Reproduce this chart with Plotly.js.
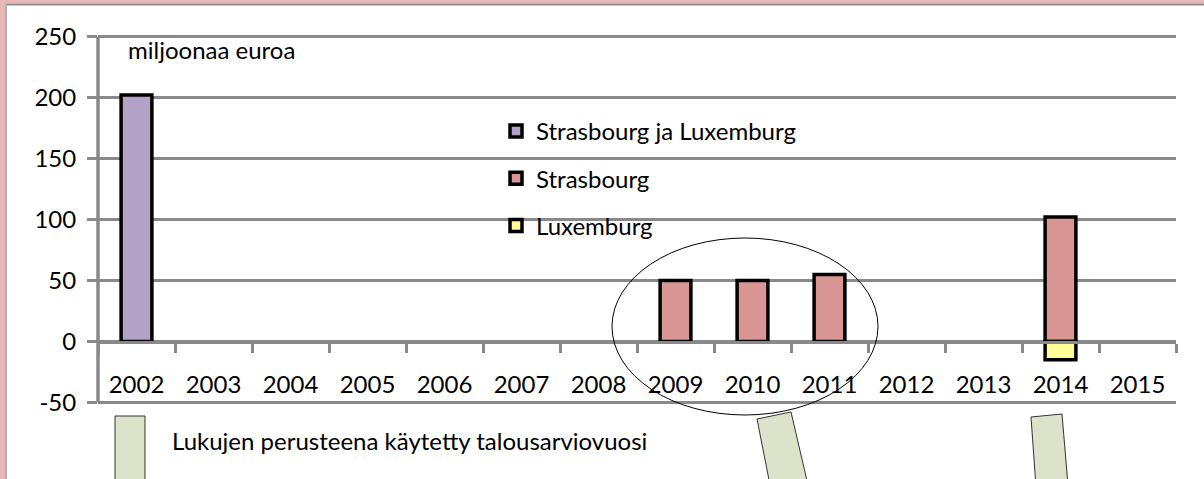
<!DOCTYPE html>
<html>
<head>
<meta charset="utf-8">
<script src="https://cdn.plot.ly/plotly-3.0.1.min.js"></script>
<style>
html,body{margin:0;padding:0;background:#fff;}
#chart{width:1204px;height:479px;}
</style>
</head>
<body>
<div id="chart"></div>
<script>
// ---- data ----
var years = ["2002","2003","2004","2005","2006","2007","2008","2009","2010","2011","2012","2013","2014","2015"];
var seriesNames = ["Strasbourg ja Luxemburg", "Strasbourg", "Luxemburg"];
var strasLuxYears = ["2002"];
var strasLuxValues = [202];
var strasYears = ["2009","2010","2011","2014"];
var strasValues = [50, 50, 55, 102];
var luxYears = ["2014"];
var luxValues = [-15];
var yTickValues = [-50, 0, 50, 100, 150, 200, 250];
var yTickLabels = ["-50", "0", "50", "100", "150", "200", "250"];
var unitLabel = "miljoonaa euroa";
var noteLabel = "Lukujen perusteena käytetty talousarviovuosi";

// ---- layout helpers (pixel -> paper) ----
var W = 1204, H = 479;
var L = 98, R = 1176, T = 34, B = 405;
function X(px){ return (px - L) / (R - L); }
function Y(py){ return (B - py) / (B - T); }

var gray = "#898989";
var font = "Lato, 'Open Sans', sans-serif";
var rMin = -52, rMax = 252;   // small padding so edge gridlines are kept

function barTrace(name, xs, ys, color){
  return {
    type: "bar", name: name, x: xs, y: ys,
    marker: {color: color, line: {color: "#000", width: 3.5}},
    legendgroup: name, hoverinfo: "skip"
  };
}

var data = [
  barTrace(seriesNames[0], strasLuxYears, strasLuxValues, "#b3a2c7"),
  barTrace(seriesNames[1], strasYears, strasValues, "#d99694"),
  barTrace(seriesNames[2], luxYears, luxValues, "#ffff99")
];

function quad(p){
  var s = "M" + X(p[0][0]) + "," + Y(p[0][1]);
  for (var i = 1; i < p.length; i++) s += " L" + X(p[i][0]) + "," + Y(p[i][1]);
  return s + " Z";
}

var shapes = [
  // frame
  {type:"rect", xref:"paper", yref:"paper", x0:X(0), x1:X(W), y0:Y(0), y1:Y(3.5), fillcolor:"#e6b9b8", line:{width:0}, layer:"below"},
  {type:"rect", xref:"paper", yref:"paper", x0:X(0), x1:X(5), y0:Y(0), y1:Y(H), fillcolor:"#e6b9b8", line:{width:0}, layer:"below"},
  {type:"line", xref:"paper", yref:"paper", x0:X(5), x1:X(W), y0:Y(4.5), y1:Y(4.5), line:{color:"#8c8c8c", width:2}},
  {type:"line", xref:"paper", yref:"paper", x0:X(6), x1:X(6), y0:Y(4), y1:Y(H), line:{color:"#b0b0b0", width:2}},
  // ellipse
  {type:"circle", xref:"paper", yref:"paper", x0:X(612), x1:X(878), y0:Y(415), y1:Y(238), line:{color:"#000", width:1}, layer:"above"},
  // callouts
  {type:"path", xref:"paper", yref:"paper", path: quad([[115,416],[145,416],[145,485],[115,485]]), fillcolor:"#dde3ca", line:{color:"#333", width:1}},
  {type:"path", xref:"paper", yref:"paper", path: quad([[757,419],[791,412],[808,485],[771,490]]), fillcolor:"#dde3ca", line:{color:"#333", width:1}},
  {type:"path", xref:"paper", yref:"paper", path: quad([[1031,417],[1062,414],[1068,485],[1036,487]]), fillcolor:"#dde3ca", line:{color:"#333", width:1}}
];

var layout = {
  width: W, height: H,
  margin: {l: L, r: W - R, t: T, b: H - B, pad: 0},
  paper_bgcolor: "#fff", plot_bgcolor: "rgba(0,0,0,0)",
  barmode: "relative", bargap: 0.6,
  font: {family: font, size: 25, color: "#000"},
  showlegend: true,
  legend: {
    x: X(496), y: Y(109), xanchor: "left", yanchor: "top",
    traceorder: "grouped", tracegroupgap: 13,
    bgcolor: "rgba(0,0,0,0)", borderwidth: 0,
    font: {family: font, size: 24, color: "#000"}
  },
  xaxis: {
    type: "category", categoryorder: "array", categoryarray: years,
    range: [-0.5, years.length - 0.5],
    anchor: "free", position: (0 - rMin) / (rMax - rMin),
    showline: true, linecolor: gray, linewidth: 3.5,
    showgrid: false, zeroline: false,
    ticks: "outside", tickson: "boundaries", ticklen: 9, tickwidth: 3, tickcolor: gray,
    ticklabelstandoff: 20,
    tickfont: {family: font, size: 24, color: "#000"},
    fixedrange: true
  },
  yaxis: {
    range: [rMin, rMax], tickvals: yTickValues, ticktext: yTickLabels,
    showline: false,
    showgrid: true, gridcolor: gray, gridwidth: 3.5, zeroline: false,
    ticks: "outside", ticklen: 10, tickwidth: 3.5, tickcolor: gray,
    ticklabelstandoff: 6,
    tickfont: {family: font, size: 24, color: "#000"},
    fixedrange: true
  },
  shapes: shapes.concat([
    // vertical value axis line spanning the value range
    {type:"line", xref:"paper", yref:"y", x0:0, x1:0, y0:yTickValues[0], y1:yTickValues[yTickValues.length-1], line:{color:gray, width:3.5}}
  ]),
  annotations: [
    {xref:"paper", yref:"paper", x: X(126), y: Y(50), xanchor:"left", yanchor:"middle", text: unitLabel, showarrow:false, font:{family:font, size:24, color:"#000"}},
    {xref:"paper", yref:"paper", x: X(170), y: Y(440), xanchor:"left", yanchor:"middle", text: noteLabel, showarrow:false, font:{family:font, size:24, color:"#000"}}
  ]
};

Plotly.newPlot("chart", data, layout, {displayModeBar: false, staticPlot: true});
</script>
</body>
</html>
